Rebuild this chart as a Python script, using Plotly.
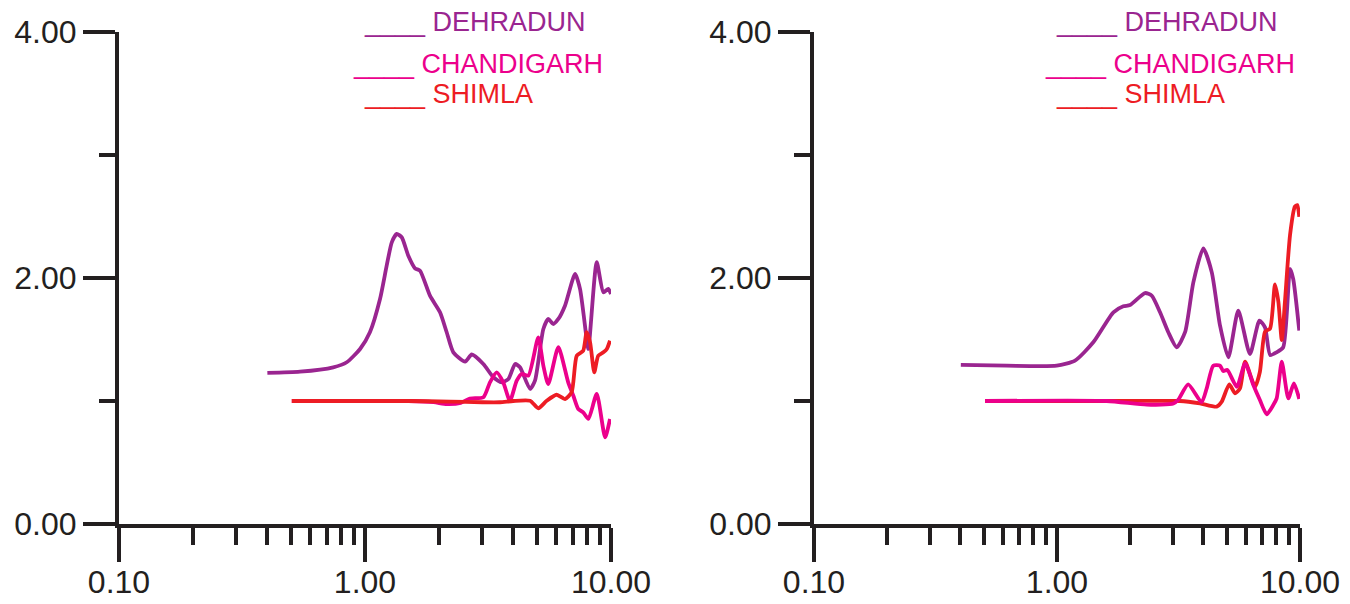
import plotly.graph_objects as go

# ---------------- data ----------------
# Left panel
L_DEH_X = [0.401, 0.544, 0.743, 0.843, 0.955, 1.047, 1.151, 1.225, 1.285, 1.346, 1.410, 1.500, 1.597,
           1.674, 1.837, 2.018, 2.148, 2.286, 2.552, 2.716, 3.027, 3.324, 3.594, 3.828, 4.074, 4.266,
           4.688, 4.909, 5.309, 5.559, 5.821, 6.109, 6.501, 7.145, 7.482, 7.962, 8.091, 8.750, 9.311,
           9.750, 10.0]
L_DEH_Y = [1.228, 1.238, 1.274, 1.315, 1.423, 1.559, 1.829, 2.100, 2.290, 2.358, 2.331, 2.181, 2.079,
           2.059, 1.856, 1.721, 1.559, 1.396, 1.320, 1.378, 1.301, 1.193, 1.152, 1.179, 1.301, 1.274,
           1.098, 1.165, 1.585, 1.667, 1.626, 1.667, 1.775, 2.033, 1.911, 1.504, 1.423, 2.128, 1.884,
           1.911, 1.870]

L_CHA_X = [0.504, 1.50, 1.90, 2.15, 2.45, 2.67, 3.03, 3.221, 3.429, 3.648, 3.882, 4.138, 4.335, 4.613,
           5.063, 5.309, 5.559, 6.109, 6.699, 7.030, 7.362, 7.709, 8.091, 8.750, 9.462, 9.908]
L_CHA_Y = [1.00, 1.00, 0.99, 0.975, 0.985, 1.02, 1.03, 1.152, 1.233, 1.152, 1.002, 1.165, 1.220, 1.206,
           1.518, 1.287, 1.138, 1.437, 1.152, 1.043, 0.935, 0.908, 0.854, 1.057, 0.705, 0.854]

L_SHI_X = [0.504, 1.50, 2.218, 3.0, 3.537, 4.0, 4.688, 5.063, 5.478, 6.012, 6.501, 6.918, 7.256, 7.709,
           7.962, 8.222, 8.551, 8.872, 9.311, 9.616, 9.908]
L_SHI_Y = [1.00, 1.00, 0.995, 0.99, 0.99, 1.0, 1.002, 0.941, 1.002, 1.051, 1.016, 1.071, 1.368, 1.409,
           1.559, 1.477, 1.233, 1.368, 1.396, 1.423, 1.490]

# Right panel
R_DEH_X = [0.402, 0.621, 0.997, 1.186, 1.410, 1.706, 1.875, 1.997, 2.302, 2.453, 2.655, 2.871, 3.109,
           3.365, 3.640, 4.000, 4.335, 4.688, 5.070, 5.572, 6.223, 6.808, 7.178, 7.534, 8.017, 8.531,
           9.099, 9.376, 9.931]
R_DEH_Y = [1.293, 1.287, 1.287, 1.328, 1.477, 1.721, 1.770, 1.780, 1.878, 1.856, 1.721, 1.559, 1.437,
           1.559, 1.965, 2.241, 2.046, 1.612, 1.355, 1.734, 1.382, 1.653, 1.599, 1.374, 1.396, 1.437,
           2.073, 1.992, 1.572]

R_CHA_X = [0.506, 1.602, 2.339, 3.013, 3.155, 3.467, 3.936, 4.130, 4.395, 4.688, 4.831, 5.023, 5.495,
           5.943, 6.427, 6.839, 7.295, 7.762, 8.017, 8.414, 8.954, 9.441, 9.931]
R_CHA_Y = [1.00, 1.00, 0.97, 0.98, 1.01, 1.135, 0.99, 1.102, 1.287, 1.287, 1.244, 1.252, 1.116,
           1.306, 1.130, 1.008, 0.891, 0.967, 1.021, 1.320, 1.021, 1.143, 1.016]

R_SHI_X = [0.506, 1.816, 3.206, 3.875, 4.539, 4.764, 5.117, 5.404, 5.662, 5.943, 6.531, 6.839, 7.178,
           7.534, 7.889, 8.147, 8.414, 8.670, 9.099, 9.528, 9.750, 9.931]
R_SHI_Y = [1.00, 1.00, 1.00, 0.98, 0.954, 0.995, 1.135, 1.062, 1.102, 1.320, 1.116, 1.238, 1.563,
           1.590, 1.948, 1.807, 1.496, 1.807, 2.350, 2.580, 2.593, 2.498]

SERIES_NAMES = ["DEHRADUN", "CHANDIGARH", "SHIMLA"]
X_TICKS = [0.1, 1, 10]
X_TICK_TEXT = ["0.10", "1.00", "10.00"]
X_MINOR = [0.2, 0.3, 0.4, 0.5, 0.6, 0.7, 0.8, 0.9, 2, 3, 4, 5, 6, 7, 8, 9]
Y_TICKS = [0, 2, 4]
Y_TICK_TEXT = ["0.00", "2.00", "4.00"]
Y_MINOR = [1, 3]

# ---------------- style ----------------
W, H = 1350, 604
C_DEH = "#9a2590"
C_CHA = "#ec008c"
C_SHI = "#ed1c24"
AX = "#231f20"
FONT = "Liberation Sans, Arial, sans-serif"
LW = 3.8

def pxx(p):
    return p / W

def pxy(p):
    return 1 - p / H

fig = go.Figure()

def line(color):
    return dict(color=color, width=LW, shape="spline", smoothing=0.6)

# left: purple, magenta, red (red on top)
fig.add_trace(go.Scatter(x=L_DEH_X, y=L_DEH_Y, mode="lines", line=line(C_DEH), xaxis="x", yaxis="y", showlegend=False))
fig.add_trace(go.Scatter(x=L_CHA_X, y=L_CHA_Y, mode="lines", line=line(C_CHA), xaxis="x", yaxis="y", showlegend=False))
fig.add_trace(go.Scatter(x=L_SHI_X, y=L_SHI_Y, mode="lines", line=line(C_SHI), xaxis="x", yaxis="y", showlegend=False))
# right: purple, red, magenta (magenta on top)
fig.add_trace(go.Scatter(x=R_DEH_X, y=R_DEH_Y, mode="lines", line=line(C_DEH), xaxis="x2", yaxis="y2", showlegend=False))
fig.add_trace(go.Scatter(x=R_SHI_X, y=R_SHI_Y, mode="lines", line=line(C_SHI), xaxis="x2", yaxis="y2", showlegend=False))
fig.add_trace(go.Scatter(x=R_CHA_X, y=R_CHA_Y, mode="lines", line=line(C_CHA), xaxis="x2", yaxis="y2", showlegend=False))

def xaxis_cfg(domain):
    return dict(
        type="log", range=[-1, 1], domain=domain,
        tickmode="array", tickvals=X_TICKS, ticktext=X_TICK_TEXT,
        ticks="outside", ticklen=34, tickwidth=4, tickcolor=AX,
        ticklabelstandoff=-7,
        showline=True, linewidth=4, linecolor=AX,
        showgrid=False, zeroline=False,
        tickfont=dict(family=FONT, size=32, color=AX),
        minor=dict(tickmode="array", tickvals=X_MINOR, ticks="outside", ticklen=17,
                   tickwidth=4, tickcolor=AX, showgrid=False),
        automargin=False, fixedrange=True,
    )

def yaxis_cfg(anchor):
    return dict(
        range=[0, 4], domain=[pxy(524), pxy(32)], anchor=anchor,
        tickmode="array", tickvals=Y_TICKS, ticktext=Y_TICK_TEXT,
        ticks="outside", ticklen=32, tickwidth=4, tickcolor=AX,
        showline=True, linewidth=4, linecolor=AX,
        showgrid=False, zeroline=False,
        tickfont=dict(family=FONT, size=32, color=AX),
        minor=dict(tickmode="array", tickvals=Y_MINOR, ticks="outside", ticklen=16,
                   tickwidth=4, tickcolor=AX, showgrid=False),
        automargin=False, fixedrange=True,
    )

xa1 = xaxis_cfg([pxx(119), pxx(611)])
xa1["anchor"] = "y"
xa2 = xaxis_cfg([pxx(814), pxx(1300)])
xa2["anchor"] = "y2"

annotations = []
colors = [C_DEH, C_CHA, C_SHI]
for off in (0, 692):
    for name, col, lx, ly in zip(SERIES_NAMES, colors, [362, 351, 362], [22, 64.5, 93.5]):
        annotations.append(dict(
            text="____ " + name, xref="paper", yref="paper",
            x=pxx(lx + off), y=pxy(ly), xanchor="left", yanchor="middle",
            showarrow=False, font=dict(family=FONT, size=27, color=col),
        ))

fig.update_layout(
    width=W, height=H,
    margin=dict(l=0, r=0, t=0, b=0),
    paper_bgcolor="white", plot_bgcolor="white",
    xaxis=xa1, yaxis=yaxis_cfg("x"),
    xaxis2=xa2, yaxis2=yaxis_cfg("x2"),
    annotations=annotations,
    showlegend=False,
)

fig.write_html("out.html", config={"displayModeBar": False})
